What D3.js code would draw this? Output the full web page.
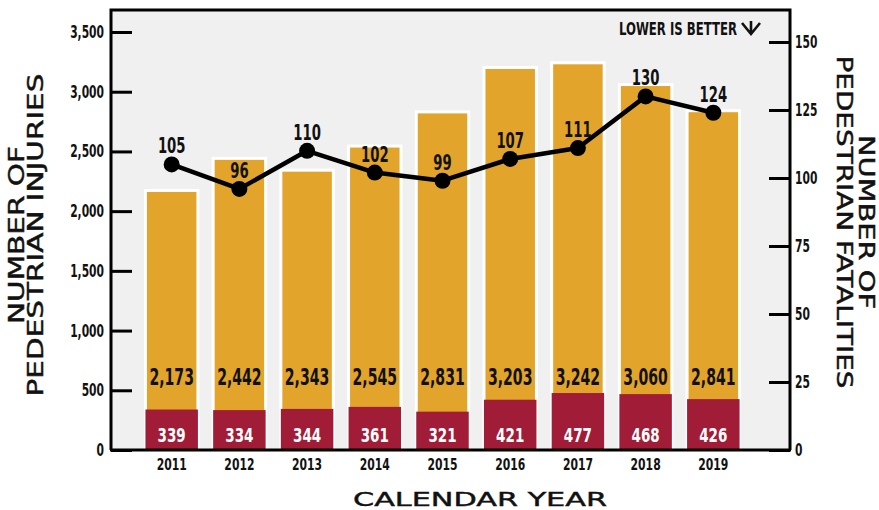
<!DOCTYPE html>
<html>
<head>
<meta charset="utf-8">
<script src="https://cdn.jsdelivr.net/npm/d3@7"></script>
<style>
  html, body { margin: 0; padding: 0; background: #ffffff; }
  svg { display: block; }
  .num { font-family: "DejaVu Sans Condensed", "DejaVu Sans", sans-serif; font-weight: bold; }
  .title { font-family: "DejaVu Sans", "Noto Sans", sans-serif; font-weight: normal; stroke: #111; stroke-width: 0.45px; }
</style>
</head>
<body>
<svg id="chart" width="879" height="510"></svg>
<script>
// Pedestrian injuries and fatalities by calendar year
const years = ["2011", "2012", "2013", "2014", "2015", "2016", "2017", "2018", "2019"];
const injuries = [2173, 2442, 2343, 2545, 2831, 3203, 3242, 3060, 2841];
const seriousInjuries = [339, 334, 344, 361, 321, 421, 477, 468, 426];
const fatalities = [105, 96, 110, 102, 99, 107, 111, 130, 124];
const leftTicks = [0, 500, 1000, 1500, 2000, 2500, 3000, 3500];
const rightTicks = [0, 25, 50, 75, 100, 125, 150];

const svg = d3.select("#chart");
const frame = { left: 111, right: 790, top: 10, bottom: 450 };

const x = d3.scaleBand().domain(years).range([138, 747]).paddingInner(0.225).paddingOuter(0.11);
const yL = d3.scaleLinear().domain([0, 3500]).range([frame.bottom, 32]);
const yR = d3.scaleLinear().domain([0, 150]).range([frame.bottom, 42]);

// narrow the numeric labels horizontally to a condensed look
function squeeze(sel, factor) {
  sel.each(function () {
    const w = this.getComputedTextLength();
    d3.select(this).attr("textLength", w * factor).attr("lengthAdjust", "spacingAndGlyphs");
  });
}

// plot background
svg.append("rect")
  .attr("x", frame.left).attr("y", frame.top)
  .attr("width", frame.right - frame.left).attr("height", frame.bottom - frame.top)
  .attr("fill", "#f0f0f0");

// total injury bars
svg.append("g").selectAll("rect")
  .data(years)
  .join("rect")
  .attr("x", d => x(d))
  .attr("y", (d, i) => yL(injuries[i]))
  .attr("width", x.bandwidth())
  .attr("height", (d, i) => frame.bottom - yL(injuries[i]))
  .attr("fill", "#e2a42a")
  .attr("stroke", "#ffffff")
  .attr("stroke-width", 3);

// serious injury bars
svg.append("g").selectAll("rect")
  .data(years)
  .join("rect")
  .attr("x", d => x(d))
  .attr("y", (d, i) => yL(seriousInjuries[i]))
  .attr("width", x.bandwidth())
  .attr("height", (d, i) => frame.bottom - yL(seriousInjuries[i]))
  .attr("fill", "#a11c36");

// frame border
svg.append("path")
  .attr("d", `M${frame.left},${frame.bottom}V${frame.top}H${frame.right}V${frame.bottom}`)
  .attr("fill", "none").attr("stroke", "#000").attr("stroke-width", 3);

// left axis
const gL = svg.append("g")
  .attr("transform", `translate(${frame.left},0)`)
  .call(d3.axisLeft(yL).tickValues(leftTicks).tickSize(-21).tickPadding(7).tickFormat(d3.format(",")));
gL.select(".domain").remove();
gL.selectAll(".tick line").attr("stroke", "#000").attr("stroke-width", 3);
gL.selectAll(".tick text").attr("class", "num").attr("font-size", 17).attr("fill", "#111").call(squeeze, 0.7);

// right axis
const gR = svg.append("g")
  .attr("transform", `translate(${frame.right},0)`)
  .call(d3.axisRight(yR).tickValues(rightTicks).tickSize(-21).tickPadding(5));
gR.select(".domain").remove();
gR.selectAll(".tick line").attr("stroke", "#000").attr("stroke-width", 3);
gR.selectAll(".tick text").attr("class", "num").attr("font-size", 17).attr("fill", "#111").call(squeeze, 0.7);

// bottom axis
const gB = svg.append("g")
  .attr("transform", `translate(0,${frame.bottom})`)
  .call(d3.axisBottom(x).tickSize(0).tickPadding(9));
gB.select(".domain").attr("stroke", "#000").attr("stroke-width", 3)
  .attr("d", `M${frame.left - 1},0H${frame.right + 1}`);
gB.selectAll(".tick text").attr("class", "num").attr("font-size", 16).attr("fill", "#111").call(squeeze, 0.75);

// bar value labels
svg.append("g").selectAll("text")
  .data(years)
  .join("text")
  .attr("class", "num")
  .attr("x", d => x(d) + x.bandwidth() / 2)
  .attr("y", 385)
  .attr("text-anchor", "middle")
  .attr("font-size", 23)
  .attr("fill", "#111")
  .text((d, i) => d3.format(",")(injuries[i]))
  .call(squeeze, 0.68);

svg.append("g").selectAll("text")
  .data(years)
  .join("text")
  .attr("class", "num")
  .attr("x", d => x(d) + x.bandwidth() / 2)
  .attr("y", 442)
  .attr("text-anchor", "middle")
  .attr("font-size", 20)
  .attr("fill", "#ffffff")
  .text((d, i) => seriousInjuries[i])
  .call(squeeze, 0.75);

// fatalities line
const line = d3.line()
  .x((d, i) => x(years[i]) + x.bandwidth() / 2)
  .y(d => yR(d));
svg.append("path")
  .datum(fatalities)
  .attr("d", line)
  .attr("fill", "none")
  .attr("stroke", "#000")
  .attr("stroke-width", 4.5)
  .attr("stroke-linejoin", "round");

svg.append("g").selectAll("circle")
  .data(fatalities)
  .join("circle")
  .attr("cx", (d, i) => x(years[i]) + x.bandwidth() / 2)
  .attr("cy", d => yR(d))
  .attr("r", 8)
  .attr("fill", "#000");

svg.append("g").selectAll("text")
  .data(fatalities)
  .join("text")
  .attr("class", "num")
  .attr("x", (d, i) => x(years[i]) + x.bandwidth() / 2)
  .attr("y", d => yR(d) - 11)
  .attr("text-anchor", "middle")
  .attr("font-size", 21)
  .attr("fill", "#111")
  .text(d => d)
  .call(squeeze, 0.7);

// note
svg.append("text")
  .attr("class", "num")
  .attr("x", 619).attr("y", 35)
  .attr("font-size", 17)
  .attr("fill", "#111")
  .attr("textLength", 118).attr("lengthAdjust", "spacingAndGlyphs")
  .text("LOWER IS BETTER");
svg.append("path")
  .attr("d", "M742,23L751,34L760,23M751,34V21")
  .attr("fill", "none").attr("stroke", "#111").attr("stroke-width", 2.6);

// axis titles
function title(lines, tx, ty, rot, lens, gap) {
  const g = svg.append("g").attr("transform", `translate(${tx},${ty}) rotate(${rot})`);
  lines.forEach((t, i) => {
    g.append("text")
      .attr("class", "title")
      .attr("x", 0).attr("y", i * gap)
      .attr("text-anchor", "middle")
      .attr("font-size", 21)
      .attr("fill", "#111")
      .attr("textLength", lens[i]).attr("lengthAdjust", "spacingAndGlyphs")
      .text(t);
  });
}
title(["NUMBER OF", "PEDESTRIAN INJURIES"], 24, 235, -90, [178, 323], 19);
title(["NUMBER OF", "PEDESTRIAN FATALITIES"], 859, 222, 90, [174, 333], 22);

svg.append("text")
  .attr("class", "title")
  .attr("x", 480).attr("y", 506)
  .attr("text-anchor", "middle")
  .attr("font-size", 20)
  .attr("fill", "#111")
  .attr("textLength", 254).attr("lengthAdjust", "spacingAndGlyphs")
  .text("CALENDAR YEAR");
</script>
</body>
</html>
